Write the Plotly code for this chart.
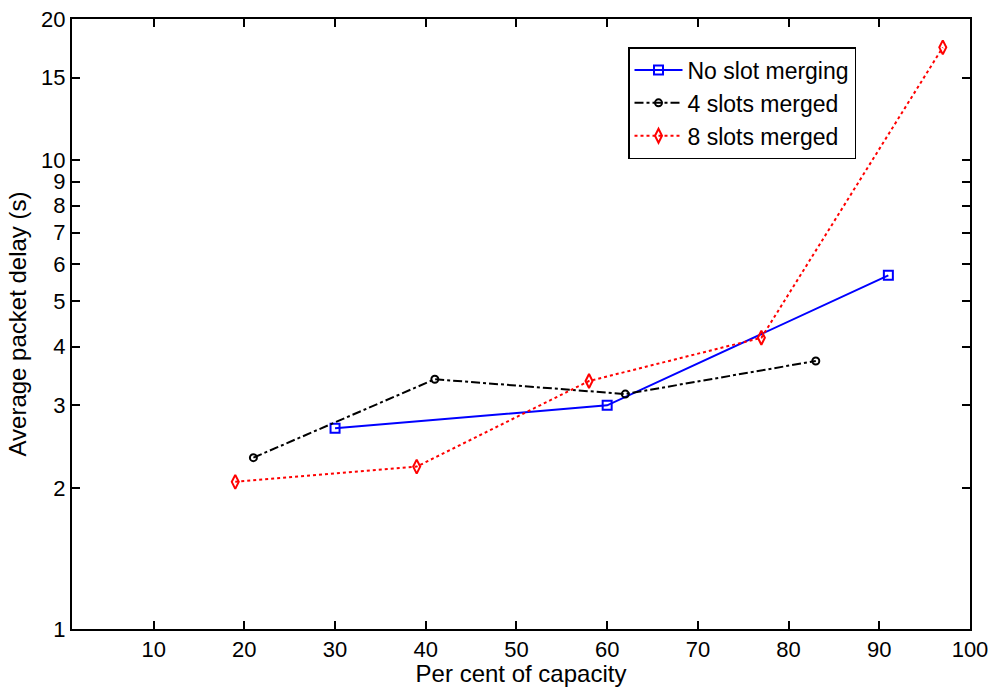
import plotly.graph_objects as go

# Data
x_no_merge = [30, 60, 91]
y_no_merge = [2.68, 3.0, 5.68]

x_4_slots = [21, 41, 62, 83]
y_4_slots = [2.32, 3.41, 3.17, 3.73]

x_8_slots = [19, 39, 58, 77, 97]
y_8_slots = [2.06, 2.22, 3.38, 4.18, 17.4]

x_ticks = [10, 20, 30, 40, 50, 60, 70, 80, 90, 100]
y_ticks = [1, 2, 3, 4, 5, 6, 7, 8, 9, 10, 15, 20]
y_tick_text = [str(v) for v in y_ticks]

FONT = "Liberation Sans, Arial, sans-serif"

fig = go.Figure()
fig.add_trace(go.Scatter(
    x=x_no_merge, y=y_no_merge, name="No slot merging", mode="lines+markers",
    line=dict(color="#0000ff", width=2, dash="solid"),
    marker=dict(symbol="square-open", size=9, color="#0000ff", line=dict(width=2)),
))
fig.add_trace(go.Scatter(
    x=x_4_slots, y=y_4_slots, name="4 slots merged", mode="lines+markers",
    line=dict(color="black", width=2, dash="dashdot"),
    marker=dict(symbol="circle-open", size=7, color="black", line=dict(width=2)),
))
fig.add_trace(go.Scatter(
    x=x_8_slots, y=y_8_slots, name="8 slots merged", mode="lines+markers",
    line=dict(color="#ff0000", width=2, dash="dot"),
    marker=dict(symbol="diamond-tall-open", size=10, color="#ff0000", line=dict(width=2)),
))

axis_common = dict(
    showline=True, linecolor="black", linewidth=2, mirror="ticks",
    ticks="inside", ticklen=8, tickwidth=2, tickcolor="black",
    showgrid=False, zeroline=False, automargin=False,
    tickfont=dict(family=FONT, size=22, color="black"),
)

fig.update_xaxes(
    range=[1, 100], tickvals=x_ticks,
    title=dict(text="Per cent of capacity", font=dict(family=FONT, size=24, color="black"), standoff=0),
    **axis_common,
)
fig.update_yaxes(
    type="log", range=[0, 1.30103], tickvals=y_ticks, ticktext=y_tick_text,
    title=dict(text="Average packet delay (s)", font=dict(family=FONT, size=24, color="black"), standoff=8),
    **axis_common,
)

fig.update_layout(
    width=992, height=687,
    margin=dict(l=72, r=22, t=19, b=58),
    paper_bgcolor="white", plot_bgcolor="white",
    showlegend=True,
    legend=dict(
        x=(628 - 72) / 898, y=(629 - 47) / 610, xanchor="left", yanchor="top",
        bgcolor="white", bordercolor="black", borderwidth=1.5,
        font=dict(family=FONT, size=23, color="black"),
        tracegroupgap=0, itemwidth=48,
    ),
)

fig.write_html("out.html")
